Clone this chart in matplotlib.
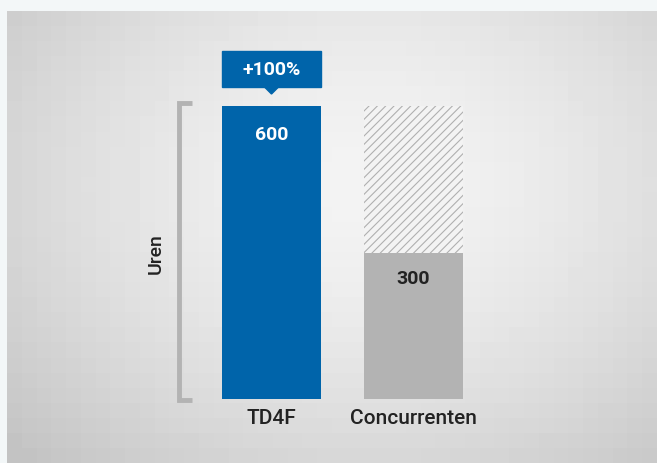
import matplotlib.pyplot as plt
import numpy as np
from matplotlib.patches import Rectangle, Polygon

plt.rcParams['font.family'] = ['Roboto', 'DejaVu Sans']
plt.rcParams['hatch.linewidth'] = 0.8

categories = ['TD4F', 'Concurrenten']
uren = [600, 300]
ylabel = 'Uren'

blauw = '#0064aa'
grijs = '#b3b3b3'

fig = plt.figure(figsize=(6.57, 4.64), dpi=100)
fig.patch.set_facecolor('#f3f7f8')

# achtergrond paneel met lichte radiale gradient
bg = fig.add_axes([7 / 657, 0, 650 / 657, 452 / 464])
yy, xx = np.mgrid[0:30, 0:44]
r = np.sqrt(((xx - 24) / 27.0) ** 2 + ((yy - 11) / 21.0) ** 2)
img = 0.955 - 0.14 * np.clip(r, 0, 1.2) ** 1.6
bg.imshow(img, cmap='gray', vmin=0, vmax=1, aspect='auto', interpolation='nearest')
bg.axis('off')

W, H = 657, 464
ax = fig.add_axes([150 / W, (H - 400) / H, 350 / W, 293 / H])
ax.patch.set_alpha(0)
px = 142.0  # pixels per category step
ax.set_xlim(-121.5 / px, (500 - 271.5) / px)
ax.set_ylim(0, 600)
ax.axis('off')

x = np.arange(len(categories))
bw = 99 / px
maxv = max(uren)

# gestreept deel tot het maximum
ax.bar(x[1], maxv, width=bw, color='#f3f3f3', edgecolor='#b0b0b0', hatch='////', linewidth=0)
ax.bar(x[0], uren[0], width=bw, color=blauw, linewidth=0)
ax.bar(x[1], uren[1], width=bw, color=grijs, linewidth=0)

ax.text(x[0], uren[0] - 57, str(uren[0]), ha='center', va='center', color='white',
        fontsize=14, fontweight='bold')
ax.text(x[1], uren[1] - 52, str(uren[1]), ha='center', va='center', color='#222222',
        fontsize=14, fontweight='bold')

for xi, c in zip(x, categories):
    ax.text(xi, -37, c, ha='center', va='center', color='#222222', fontsize=15,
            fontweight='medium', clip_on=False)

# haak links
bx = (179 - 271.5) / px
bt = (192 - 271.5) / px
ax.plot([bt, bx, bx, bt], [606, 606, -2, -2], color=grijs, lw=3.5, solid_joinstyle='miter',
        solid_capstyle='butt', clip_on=False)
ax.text((156 - 271.5) / px, 300, ylabel, rotation=90, ha='center', va='center',
        fontsize=14, fontweight='medium', color='#222222', clip_on=False)

# callout met procent verschil
pct = (uren[0] - uren[1]) / uren[1] * 100
y0 = (400 - 88) / 293 * 600
y1 = (400 - 52) / 293 * 600
ax.add_patch(Rectangle((x[0] - bw / 2, y0), bw, y1 - y0, color=blauw, clip_on=False))
tip = (400 - 95) / 293 * 600
ax.add_patch(Polygon([[x[0] - 7 / px, y0], [x[0] + 7 / px, y0], [x[0], tip]], color=blauw,
                     clip_on=False))
ax.text(x[0], (y0 + y1) / 2, f'+{pct:.0f}%', ha='center', va='center', color='white',
        fontsize=14, fontweight='bold', clip_on=False)

fig.savefig('out.png', dpi=100)
